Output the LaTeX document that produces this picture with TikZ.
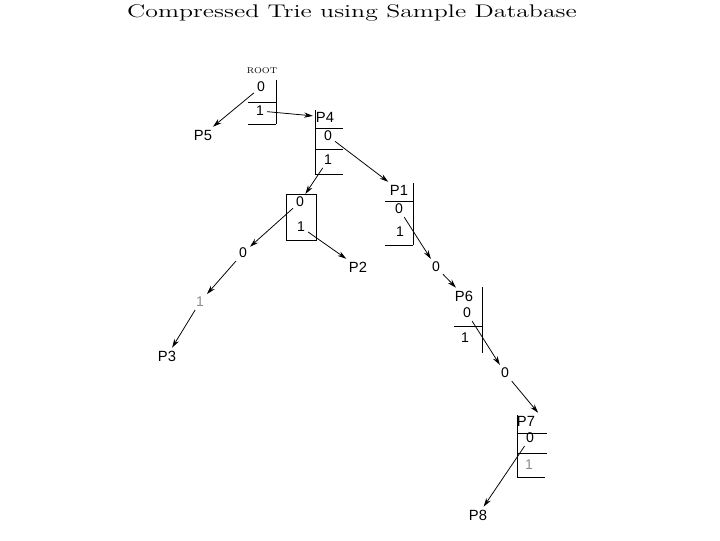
\documentclass[tikz,border=0pt]{standalone}
\usepackage{fontspec}
\newfontfamily\arialfont{Liberation Sans}
\usetikzlibrary{arrows.meta}

\begin{document}
\begin{tikzpicture}[
  x=0.025cm, y=-0.025cm,
  bit/.style={font=\arialfont\fontsize{10}{12}\selectfont, inner sep=2pt},
  tag/.style={font=\arialfont\fontsize{10.5}{12}\selectfont, inner sep=2pt},
  faint/.style={text=black!45},
  arrow/.style={-{Stealth[length=2.2mm,width=1.3mm]}, line width=0.55pt},
  tline/.style={line width=0.6pt},
]
\useasboundingbox (0,0) rectangle (720,540);
\node[font=\fontsize{13}{15}\selectfont] (title) at (352,13)
  {\scalebox{1.41}[1]{Compressed Trie using Sample Database}};

% root
\node[font=\fontsize{6}{7}\selectfont, inner sep=1pt] (root) at (262,71) {ROOT};
\node[bit] (r0) at (261,87) {0};
\node[bit] (r1) at (260,111) {1};
\node[tag] (p5) at (203,135) {P5};
\draw[tline] (276,80) -- (276,124) (248,102) -- (276,102) (248,124) -- (276,124);

% P4
\node[tag] (p4) at (325,117) {P4};
\node[bit] (p4a) at (328,136) {0};
\node[bit] (p4b) at (328,160) {1};
\draw[tline] (315,110) -- (315,174) (315,128) -- (343,128)
  (315,149) -- (343,149) (315,174) -- (343,174);

% box under P4
\node[bit] (b0) at (300,202) {0};
\node[bit] (b1) at (301,227) {1};
\draw[tline] (286,194) rectangle (316,240);
\node[tag] (p2) at (358,267) {P2};
\node[bit] (z1) at (243,253) {0};
\node[bit, faint] (o1) at (200,302) {1};
\node[tag] (p3) at (167,356) {P3};

% P1
\node[tag] (p1) at (399,190) {P1};
\node[bit] (p1a) at (399,209) {0};
\node[bit] (p1b) at (400,232) {1};
\draw[tline] (413,183) -- (413,245) (385,201) -- (413,201) (385,245) -- (413,245);
\node[bit] (z2) at (436,267) {0};

% P6
\node[tag] (p6) at (464,296) {P6};
\node[bit] (p6a) at (467,313) {0};
\node[bit] (p6b) at (465,338) {1};
\draw[tline] (482,287) -- (482,353) (454,326) -- (482,326);
\node[bit] (z3) at (505,373) {0};

% P7
\node[tag] (p7) at (526,421) {P7};
\node[bit] (p7a) at (530,438) {0};
\node[bit, faint] (p7b) at (529,465) {1};
\draw[tline] (517,415) -- (517,477) (517,433) -- (547,433)
  (517,453) -- (547,453) (517,477) -- (545,477);
\node[tag] (p8) at (478,515) {P8};

\draw[arrow] (r0) -- (p5);
\draw[arrow] (r1) -- (p4);
\draw[arrow] (p4a) -- (p1);
\draw[arrow] (p4b) -- (b0);
\draw[arrow] (b0) -- (z1);
\draw[arrow] (b1) -- (p2);
\draw[arrow] (z1) -- (o1);
\draw[arrow] (o1) -- (p3);
\draw[arrow] (p1a) -- (z2);
\draw[arrow] (z2) -- (p6);
\draw[arrow] (p6a) -- (z3);
\draw[arrow] (z3) -- (p7.north east);
\draw[arrow] (p7a) -- (p8);
\end{tikzpicture}
\end{document}
